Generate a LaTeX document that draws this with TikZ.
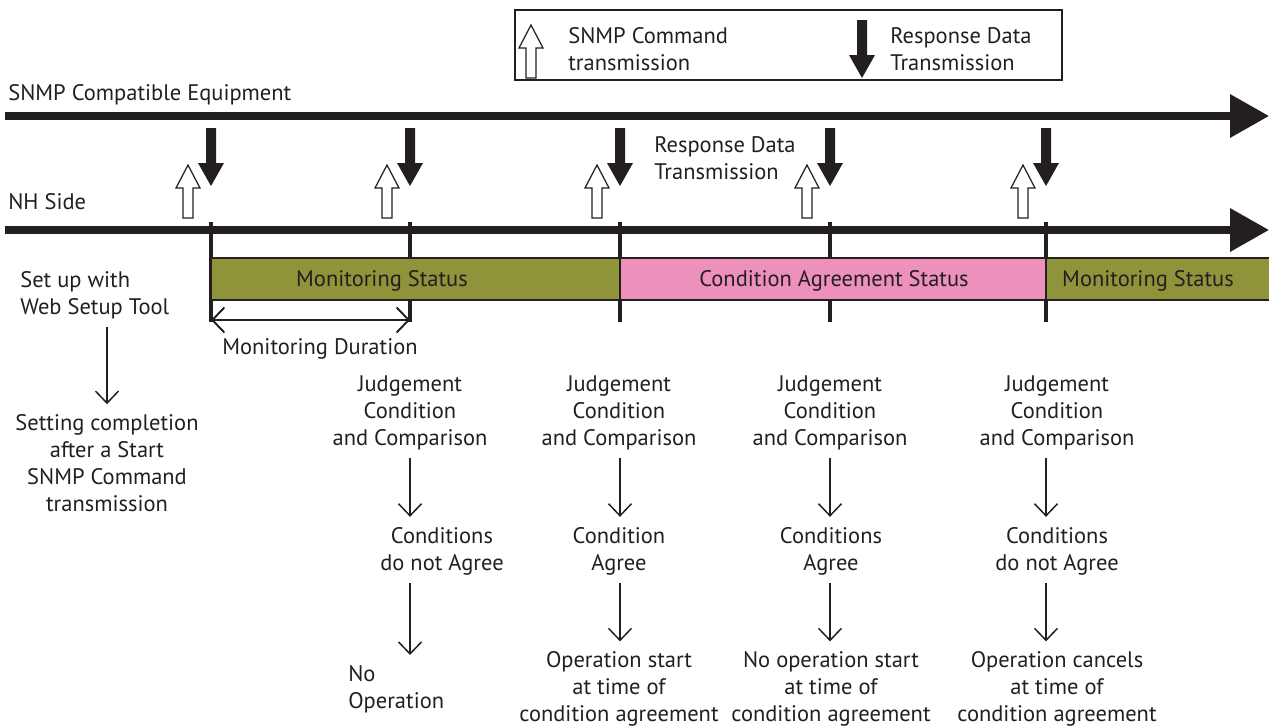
\documentclass[tikz,border=0pt]{standalone}
\usepackage{fontspec}
\setmainfont{PT Sans}
\usetikzlibrary{arrows.meta}

\definecolor{ink}{HTML}{231F20}
\definecolor{barolive}{HTML}{8F9339}
\definecolor{barpink}{HTML}{EE90BC}

% outline arrow (command), tip at (#1,#2)
\newcommand{\cmdarrow}[2]{%
\draw[ink,line width=0.7pt,fill=white]
({#1-5},{#2+53}) -- ({#1-5},{#2+23}) -- ({#1-12},{#2+23})
-- (#1,#2) -- ({#1+12},{#2+23}) -- ({#1+5},{#2+23})
-- ({#1+5},{#2+53}) -- cycle;}

% filled arrow (response), tip at (#1,#2)
\newcommand{\resarrow}[2]{%
\fill[ink]
({#1-5},{#2-58}) -- ({#1+5},{#2-58}) -- ({#1+5},{#2-23})
-- ({#1+13},{#2-23}) -- (#1,#2) -- ({#1-13},{#2-23})
-- ({#1-5},{#2-23}) -- cycle;}

\tikzset{
lbl/.style={text=ink,inner sep=0pt,align=center,
  font=\fontsize{12.8}{15.3}\selectfont},
axis/.style={ink,line width=4pt,
  -{Triangle[length=0.78cm,width=0.84cm]}},
tick/.style={ink,line width=1.8pt},
barbox/.style={draw=ink,line width=1.3pt},
flow/.style={ink,line width=0.85pt,
  -{Straight Barb[length=0.24cm,width=0.46cm]},
  shorten <=0.16cm,shorten >=0.2cm},
span/.style={ink,line width=1.1pt,
  {Straight Barb[length=0.24cm,width=0.5cm]}-{Straight Barb[length=0.24cm,width=0.5cm]}}
}

\begin{document}
\begin{tikzpicture}[x=0.02cm,y=-0.02cm]
\useasboundingbox (0,0) rectangle (1269,727);

% Legend
\draw[ink,line width=0.9pt]
(515,10) rectangle (1062,80);

\cmdarrow{531}{25}
\resarrow{862}{78}

\node[lbl,align=left,anchor=west] (lgcmd)
at (568,49)
{SNMP Command\\transmission};

\node[lbl,align=left,anchor=west] (lgres)
at (890,49)
{Response Data\\Transmission};

% Axes
\coordinate (eqL) at (5,116);
\coordinate (eqR) at (1269,116);
\coordinate (nhL) at (5,230);
\coordinate (nhR) at (1269,230);

\draw[axis] (eqL) -- (eqR);
\draw[axis] (nhL) -- (nhR);

\node[lbl,anchor=west] (equip)
at (8,95)
{SNMP Compatible Equipment};

\node[lbl,anchor=west] (nhside)
at (8,202)
{NH Side};

% Ticks
\coordinate (t1) at (211,222);
\coordinate (t2) at (410,222);
\coordinate (t3) at (620,222);
\coordinate (t4) at (830,222);
\coordinate (t5) at (1046,222);

\foreach \t in {t1,t2,t3,t4,t5}
\draw[tick] (\t) -- ++(0,100);

% Command / response arrows
\foreach \x in {211,410,620,830,1046}
{
\cmdarrow{\x-23}{165}
\resarrow{\x}{186}
}

\node[lbl,align=left,anchor=west] (resp)
at (654,158)
{Response Data\\Transmission};

% Status bar
\draw[barbox,fill=barolive]
(211,258) rectangle (620,300);

\draw[barbox,fill=barpink]
(620,258) rectangle (1046,300);

\draw[barbox,fill=barolive]
(1046,258) rectangle (1272,300);

\node[lbl] (mon1)
at (382,281)
{Monitoring Status};

\node[lbl] (agree)
at (834,281)
{Condition Agreement Status};

\node[lbl] (mon2)
at (1148,281)
{Monitoring Status};

% Monitoring duration
\coordinate (dL) at (211,320);
\coordinate (dR) at (410,320);
\draw[span] (dL) -- (dR);

\node[lbl] (dur)
at (320,349)
{Monitoring Duration};

% Setup
\node[lbl,align=left,anchor=west] (setup)
at (20,295)
{Set up with\\Web Setup Tool};

\node[lbl] (setdone)
at (107,463)
{Setting completion\\after a Start\\SNMP Command\\transmission};

\draw[flow] (setup.south -| setdone.north) -- (setdone.north);

% Column 1
\node[lbl] (judge1)
at (410,413)
{Judgement\\Condition\\and Comparison};

\node[lbl] (cond1)
at (442,551)
{Conditions\\do not Agree};

\node[lbl,align=left,anchor=west] (oper1)
at (348,689)
{No\\Operation};

\draw[flow] (judge1.south -| t2) -- (cond1.north -| t2);
\draw[flow] (cond1.south -| t2) -- (oper1.north -| t2);

% Column 2
\node[lbl] (judge2)
at (619,413)
{Judgement\\Condition\\and Comparison};

\node[lbl] (cond2)
at (619,551)
{Condition\\Agree};

\node[lbl] (oper2)
at (619,689)
{Operation start\\at time of\\condition agreement};

\draw[flow] (judge2.south -| t3) -- (cond2.north -| t3);
\draw[flow] (cond2.south -| t3) -- (oper2.north -| t3);

% Column 3
\node[lbl] (judge3)
at (830,413)
{Judgement\\Condition\\and Comparison};

\node[lbl] (cond3)
at (831,551)
{Conditions\\Agree};

\node[lbl] (oper3)
at (831,689)
{No operation start\\at time of\\condition agreement};

\draw[flow] (judge3.south -| t4) -- (cond3.north -| t4);
\draw[flow] (cond3.south -| t4) -- (oper3.north -| t4);

% Column 4
\node[lbl] (judge4)
at (1057,413)
{Judgement\\Condition\\and Comparison};

\node[lbl] (cond4)
at (1057,551)
{Conditions\\do not Agree};

\node[lbl] (oper4)
at (1057,689)
{Operation cancels\\at time of\\condition agreement};

\draw[flow] (judge4.south -| t5) -- (cond4.north -| t5);
\draw[flow] (cond4.south -| t5) -- (oper4.north -| t5);

\end{tikzpicture}
\end{document}
